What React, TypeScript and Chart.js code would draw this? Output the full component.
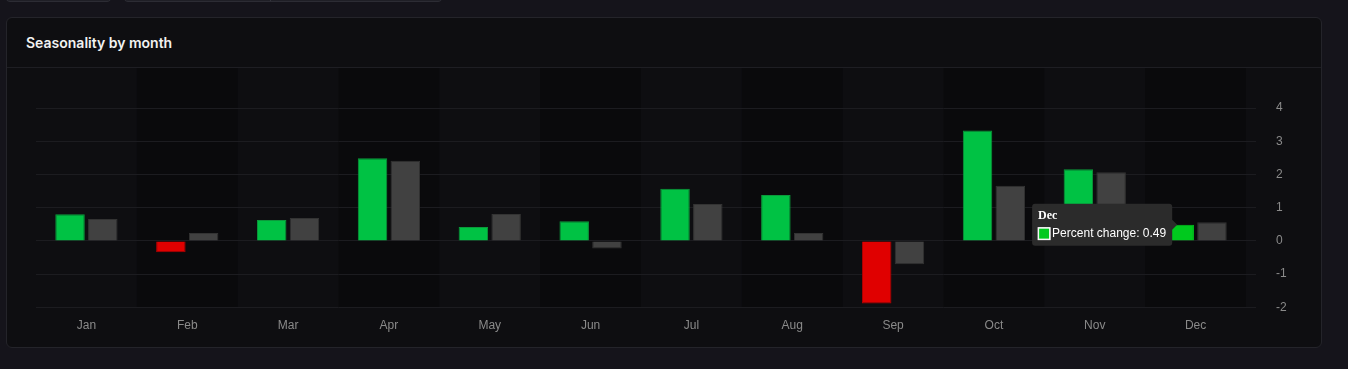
import React, { useEffect, useRef } from 'react';
import { Chart, registerables } from 'chart.js';

Chart.register(...registerables);

const months = ['Jan', 'Feb', 'Mar', 'Apr', 'May', 'Jun', 'Jul', 'Aug', 'Sep', 'Oct', 'Nov', 'Dec'];
const percentChange = [0.8, -0.34, 0.63, 2.49, 0.42, 0.59, 1.57, 1.38, -1.88, 3.32, 2.16, 0.49];
const averageChange = [0.66, 0.24, 0.69, 2.41, 0.81, -0.23, 1.11, 0.24, -0.7, 1.66, 2.07, 0.56];
const yMin = -2;
const yMax = 4;
const hoveredIndex = 11;

const GREEN = '#00c244';
const GREEN_BORDER = '#0b9a3b';
const RED = '#e00000';
const RED_BORDER = '#b00000';
const GRAY = '#414141';
const GRAY_BORDER = '#333333';
const HOVER_GREEN = '#00c91e';
const SANS = "'Liberation Sans', Arial, Helvetica, sans-serif";

export default function App() {
  const ref = useRef<HTMLCanvasElement>(null);

  useEffect(() => {
    const canvas = ref.current;
    if (!canvas) return;

    const bandPlugin = {
      id: 'monthBands',
      beforeDraw(chart: any) {
        const { ctx, chartArea, scales } = chart;
        const xs = scales.x;
        const w = (chartArea.right - chartArea.left) / months.length;
        ctx.save();
        ctx.fillStyle = '#0a0a0c';
        months.forEach((_m, i) => {
          if (i % 2 === 1) {
            const c = xs.getPixelForValue(i);
            ctx.fillRect(c - w / 2, 0, w, chartArea.bottom);
          }
        });
        ctx.restore();
      },
    };

    const chart = new Chart(canvas, {
      type: 'bar',
      data: {
        labels: months,
        datasets: [
          {
            label: 'Percent change',
            data: percentChange,
            backgroundColor: percentChange.map((v) => (v >= 0 ? GREEN : RED)),
            borderColor: percentChange.map((v) => (v >= 0 ? GREEN_BORDER : RED_BORDER)),
            hoverBackgroundColor: HOVER_GREEN,
            hoverBorderColor: HOVER_GREEN,
            borderWidth: 1,
            barPercentage: 0.9,
            categoryPercentage: 0.65,
          },
          {
            label: 'Average',
            data: averageChange,
            backgroundColor: GRAY,
            borderColor: GRAY_BORDER,
            hoverBackgroundColor: GRAY,
            hoverBorderColor: GRAY_BORDER,
            borderWidth: 1,
            barPercentage: 0.9,
            categoryPercentage: 0.65,
          },
        ],
      },
      options: {
        responsive: false,
        animation: false,
        layout: { padding: { top: 40, left: 29, right: 0, bottom: 0 } },
        plugins: {
          legend: { display: false },
          tooltip: {
            backgroundColor: '#2b2b2b',
            titleColor: '#ffffff',
            bodyColor: '#ffffff',
            titleFont: { family: "'Liberation Serif', 'Times New Roman', serif", size: 12, weight: 'bold', lineHeight: 1 },
            bodyFont: { family: SANS, size: 12, lineHeight: 1 },
            padding: 6,
            cornerRadius: 3,
            caretSize: 5,
            titleMarginBottom: 6,
            callbacks: {
              labelColor: () => ({ borderColor: '#ffffff', backgroundColor: HOVER_GREEN, borderWidth: 1 }),
            },
          },
        },
        scales: {
          x: {
            grid: { display: false, drawTicks: true, tickLength: 8 },
            border: { display: false },
            ticks: { color: '#8a8a8a', font: { family: SANS, size: 12 }, padding: 3 },
            afterFit: (s: any) => {
              s.height = 39.6;
            },
          },
          y: {
            position: 'right',
            min: yMin,
            max: yMax,
            grid: { color: '#1c1c20', tickLength: 10, drawTicks: true },
            border: { display: false },
            ticks: { stepSize: 1, color: '#8a8a8a', font: { family: SANS, size: 12 }, padding: 20 },
            afterFit: (s: any) => {
              s.width = 75;
            },
          },
        },
      },
      plugins: [bandPlugin],
    } as any);

    const active = [{ datasetIndex: 0, index: hoveredIndex }];
    chart.setActiveElements(active);
    chart.tooltip?.setActiveElements(active, { x: 0, y: 0 });
    chart.update();

    return () => chart.destroy();
  }, []);

  return (
    <div style={{ position: 'fixed', inset: 0, background: '#15141b', overflow: 'hidden' }}>
      <div
        style={{
          position: 'absolute', left: 5, top: -20, width: 107, height: 22, boxSizing: 'border-box',
          background: '#1f1f26', border: '1px solid #2c2c34', borderRadius: 5,
        }}
      />
      <div
        style={{
          position: 'absolute', left: 123, top: -20, width: 320, height: 22, boxSizing: 'border-box',
          background: '#1f1f26', border: '1px solid #2c2c34', borderRadius: 5,
        }}
      >
        <div style={{ position: 'absolute', left: 146, top: 0, bottom: 0, width: 1, background: '#34343c' }} />
      </div>
      <div
        style={{
          position: 'absolute', left: 6, top: 17, width: 1316, height: 331, boxSizing: 'border-box',
          border: '1px solid #24242a', borderRadius: 6, background: '#0e0e11', overflow: 'hidden',
        }}
      >
        <div
          style={{
            height: 49, borderBottom: '1px solid #1e1e23', display: 'flex', alignItems: 'center',
            paddingLeft: 19, color: '#f2f2f2', fontFamily: "Inter, 'Noto Sans', sans-serif",
            fontWeight: 600, fontSize: 14,
          }}
        >
          Seasonality by month
        </div>
        <canvas ref={ref} width={1314} height={279} style={{ display: 'block', width: 1314, height: 279 }} />
      </div>
    </div>
  );
}
